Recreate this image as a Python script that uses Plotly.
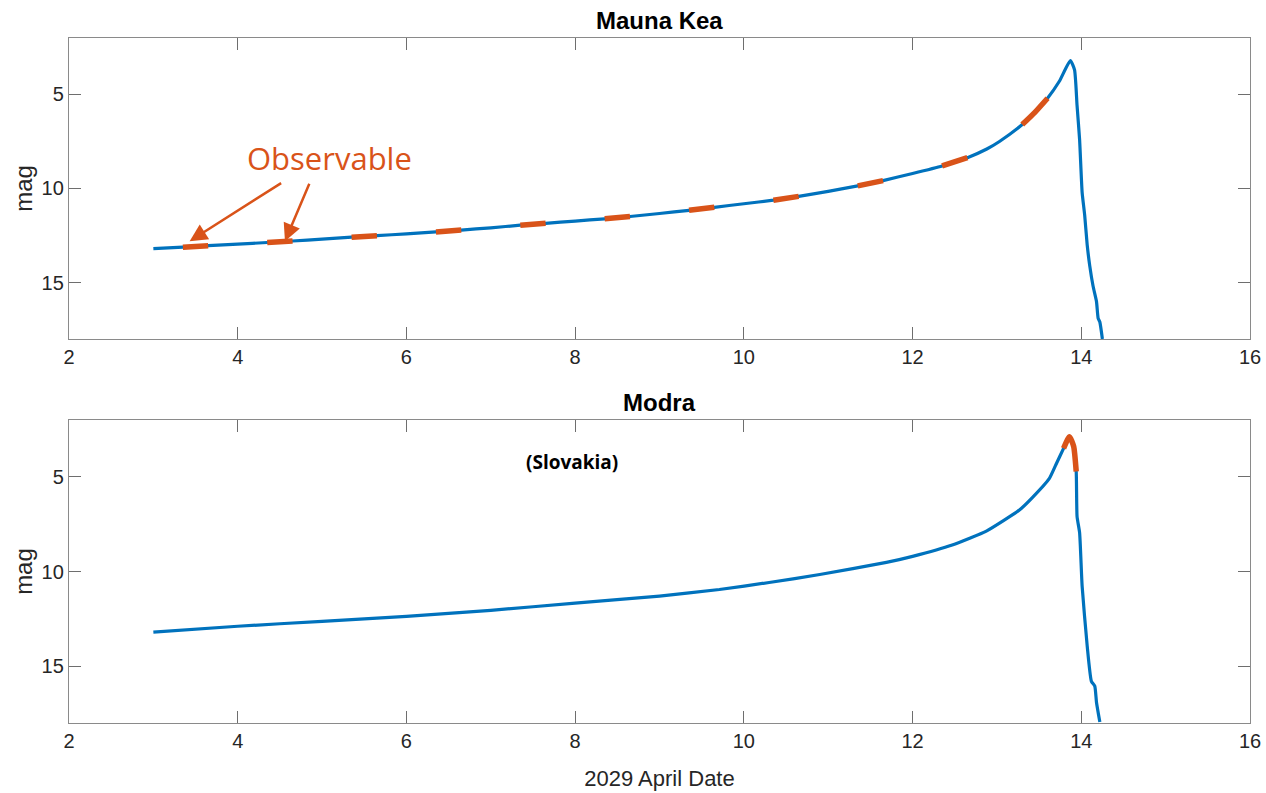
import numpy as np
import plotly.graph_objects as go
from plotly.subplots import make_subplots

# ---- data ----
mk_date = [3.0, 3.35, 3.65, 4.0, 4.35, 4.65, 5.0, 5.35, 5.65, 6.0, 6.35, 6.65, 7.0, 7.35, 7.65,
           8.0, 8.35, 8.65, 9.0, 9.35, 9.65, 10.0, 10.35, 10.65, 11.0, 11.35, 11.65, 12.0, 12.35,
           12.65, 12.88, 13.03, 13.3, 13.45, 13.6, 13.74, 13.87, 13.92, 13.95, 13.98, 14.01, 14.04,
           14.07, 14.1, 14.14, 14.18, 14.2, 14.22, 14.25]
mk_mag = [13.20, 13.12, 13.04, 12.96, 12.87, 12.79, 12.69, 12.59, 12.51, 12.41, 12.31, 12.21, 12.09,
          11.95, 11.85, 11.73, 11.61, 11.49, 11.33, 11.16, 11.00, 10.81, 10.62, 10.42, 10.15, 9.86,
          9.58, 9.20, 8.80, 8.36, 7.90, 7.50, 6.60, 5.95, 5.20, 4.30, 3.20, 3.70, 5.60, 7.40, 10.2,
          11.4, 13.0, 14.1, 15.2, 16.0, 16.9, 17.1, 18.0]
mk_windows = [(3.35, 3.65), (4.35, 4.65), (5.35, 5.65), (6.35, 6.65), (7.35, 7.65), (8.35, 8.65),
              (9.35, 9.65), (10.35, 10.65), (11.35, 11.65), (12.35, 12.65), (13.3, 13.6)]

mo_date = [3.0, 4.0, 5.0, 6.0, 7.0, 8.0, 9.0, 9.71, 10.3, 10.9, 11.69, 12.0, 12.47, 12.88, 13.27,
           13.42, 13.62, 13.7, 13.79, 13.86, 13.91, 13.94, 13.95, 13.98, 14.01, 14.07, 14.12, 14.16,
           14.18, 14.22]
mo_mag = [13.2, 12.89, 12.63, 12.37, 12.05, 11.67, 11.30, 10.95, 10.58, 10.16, 9.52, 9.20, 8.60,
          7.85, 6.74, 6.10, 5.10, 4.35, 3.50, 2.88, 3.4, 4.72, 7.1, 7.95, 10.77, 13.93, 15.8, 16.05,
          16.9, 17.95]
mo_windows = [(13.79, 13.94)]

x_ticks = [2, 4, 6, 8, 10, 12, 14, 16]
y_ticks = [5, 10, 15]

BLUE = "#0072BD"
ORANGE = "#D95319"
FONT = "Liberation Sans"

fig = make_subplots(rows=2, cols=1, vertical_spacing=0.1183)
fig.update_layout(yaxis_domain=[0.5606, 1.0], yaxis2_domain=[0.0, 0.4423])


def add_site(dates, mags, windows, row):
    d = np.array(dates)
    m = np.array(mags)
    fig.add_trace(go.Scatter(x=d, y=m, mode="lines", line=dict(color=BLUE, width=3.2, shape="spline", smoothing=0.5),
                             showlegend=False, hoverinfo="skip"), row=row, col=1)
    for (a, b) in windows:
        mask = (d >= a - 1e-9) & (d <= b + 1e-9)
        fig.add_trace(go.Scatter(x=d[mask], y=m[mask], mode="lines",
                                 line=dict(color=ORANGE, width=5.5, shape="spline", smoothing=0.5),
                                 showlegend=False, hoverinfo="skip"), row=row, col=1)


add_site(mk_date, mk_mag, mk_windows, 1)
add_site(mo_date, mo_mag, mo_windows, 2)

axis_common = dict(showgrid=False, zeroline=False, showline=True, linecolor="#8a8a8a", linewidth=1.3,
                   mirror="ticks", ticks="inside", ticklen=12, tickwidth=1, tickcolor="#6e6e6e",
                   automargin=False, ticklabeloverflow="allow",
                   tickfont=dict(family=FONT, size=20, color="#262626"))
for r in (1, 2):
    fig.update_xaxes(range=[2, 16], tickvals=x_ticks, row=r, col=1, **axis_common)
    fig.update_yaxes(range=[18, 2], tickvals=y_ticks, row=r, col=1, **axis_common,
                     title=dict(text="mag", font=dict(family=FONT, size=24, color="#262626"), standoff=2))
fig.update_xaxes(title=dict(text="2029 April Date", font=dict(family=FONT, size=22, color="#262626"), standoff=19),
                 row=2, col=1)

annotations = [
    dict(text="<b>Mauna Kea</b>", xref="x domain", yref="y domain", x=0.5, y=1.0, yanchor="bottom",
         yshift=2, showarrow=False, font=dict(family=FONT, size=24, color="#000000")),
    dict(text="<b>Modra</b>", xref="x2 domain", yref="y2 domain", x=0.5, y=1.0, yanchor="bottom",
         yshift=2, showarrow=False, font=dict(family=FONT, size=24, color="#000000")),
    dict(text="<b>(Slovakia)</b>", xref="x2", yref="y2", x=7.96, y=4.2, showarrow=False,
         font=dict(family="Open Sans", size=19, color="#000000")),
    dict(text="Observable", xref="x", yref="y", x=5.09, y=8.4, showarrow=False,
         font=dict(family="Open Sans", size=31, color=ORANGE)),
    dict(text="", xref="x", yref="y", x=3.43, y=12.8, ax=93, ay=-59, showarrow=True,
         arrowhead=2, arrowsize=1.4, arrowwidth=2.5, arrowcolor=ORANGE),
    dict(text="", xref="x", yref="y", x=4.56, y=12.8, ax=25, ay=-59, showarrow=True,
         arrowhead=2, arrowsize=1.4, arrowwidth=2.5, arrowcolor=ORANGE),
]
fig.update_layout(annotations=annotations)

fig.update_layout(width=1266, height=793, margin=dict(l=69, r=16, t=38, b=70),
                  plot_bgcolor="white", paper_bgcolor="white")

fig.write_html("out.html")
